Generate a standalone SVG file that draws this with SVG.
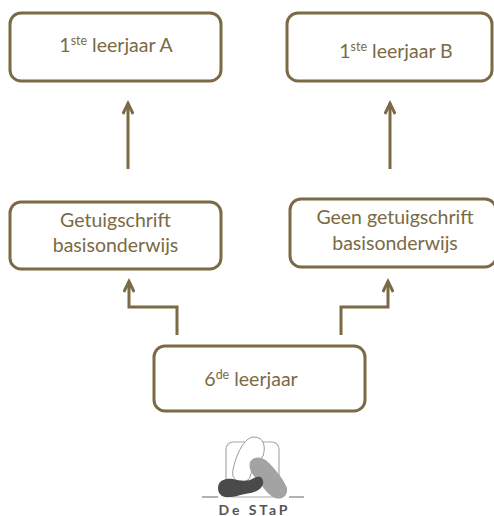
<svg xmlns="http://www.w3.org/2000/svg" width="494" height="516" viewBox="0 0 494 516">
<style>
.box{fill:#fff;stroke:#7a6a45;stroke-width:3}
.t{font-family:Lato,"Liberation Sans",sans-serif;font-size:19.5px;fill:#7a6a45;text-anchor:middle}
.s{font-size:12.5px}
.c{fill:none;stroke:#7a6a45;stroke-width:3}
</style>
<defs><marker id="a" markerUnits="userSpaceOnUse" markerWidth="16" markerHeight="12" refX="12" refY="6" orient="auto"><path d="M1 .8L11.5 6L1 11.2" fill="none" stroke="#7a6a45" stroke-width="3"/></marker></defs>
<rect width="494" height="516" fill="#fff"/>
<g id="connectors">
<path class="c" marker-end="url(#a)" d="M128 169V103"/>
<path class="c" marker-end="url(#a)" d="M390 169V103"/>
<path class="c" marker-end="url(#a)" d="M177 335V307H129V281"/>
<path class="c" marker-end="url(#a)" d="M341 335V307H388V281"/>
</g>
<g id="n1"><rect class="box" x="10" y="13" width="211" height="68" rx="11"/><text class="t" x="116" y="52">1<tspan class="s" dy="-7">ste</tspan><tspan dy="7"> leerjaar A</tspan></text></g>
<g id="n2"><rect class="box" x="287" y="13" width="205" height="68" rx="11"/><text class="t" x="396" y="58">1<tspan class="s" dy="-7">ste</tspan><tspan dy="7"> leerjaar B</tspan></text></g>
<g id="n3"><rect class="box" x="10" y="202" width="211" height="67" rx="11"/><text class="t" x="115.500" y="227">Getuigschrift</text><text class="t" x="115.500" y="252">basisonderwijs</text></g>
<g id="n4"><rect class="box" x="290" y="199" width="206" height="68" rx="11"/><text class="t" x="395" y="224">Geen getuigschrift</text><text class="t" x="395" y="250">basisonderwijs</text></g>
<g id="n5"><rect class="box" x="154" y="346" width="211" height="65" rx="11"/><text class="t" x="251" y="386">6<tspan class="s" dy="-7">de</tspan><tspan dy="7"> leerjaar</tspan></text></g>
<g id="logo">
<rect x="226" y="442" width="53" height="55" rx="7" fill="#fff" stroke="#aaa" stroke-width="1.2"/>
<path d="M233 470C236 455 244 437 254 437C264 437 266 447 263 456C258 462 252 468 250 477C248 482 242 483 238 481C233 479 232 475 233 470Z" fill="#fff" stroke="#999" stroke-width="1"/>
<path d="M250 462C253 456 262 456 268 462C276 470 284 480 287 488C288 496 282 500 275 498C268 495 264 488 258 481C253 475 248 470 250 462Z" fill="#a3a3a3"/>
<path d="M218 488C218 480 226 478 233 479C240 481 248 482 254 478C260 475 264 478 263 484C261 491 252 493 245 494C236 496 228 499 222 496C219 494 218 491 218 488Z" fill="#4a4a4a"/>
<path d="M202 497H218M289 497H304" stroke="#999" stroke-width="1.500" fill="none"/>
<text x="253" y="514.500" font-family="Lato,sans-serif" font-size="14" font-weight="bold" fill="#555" text-anchor="middle" textLength="69">De STaP</text>
</g>
</svg>
